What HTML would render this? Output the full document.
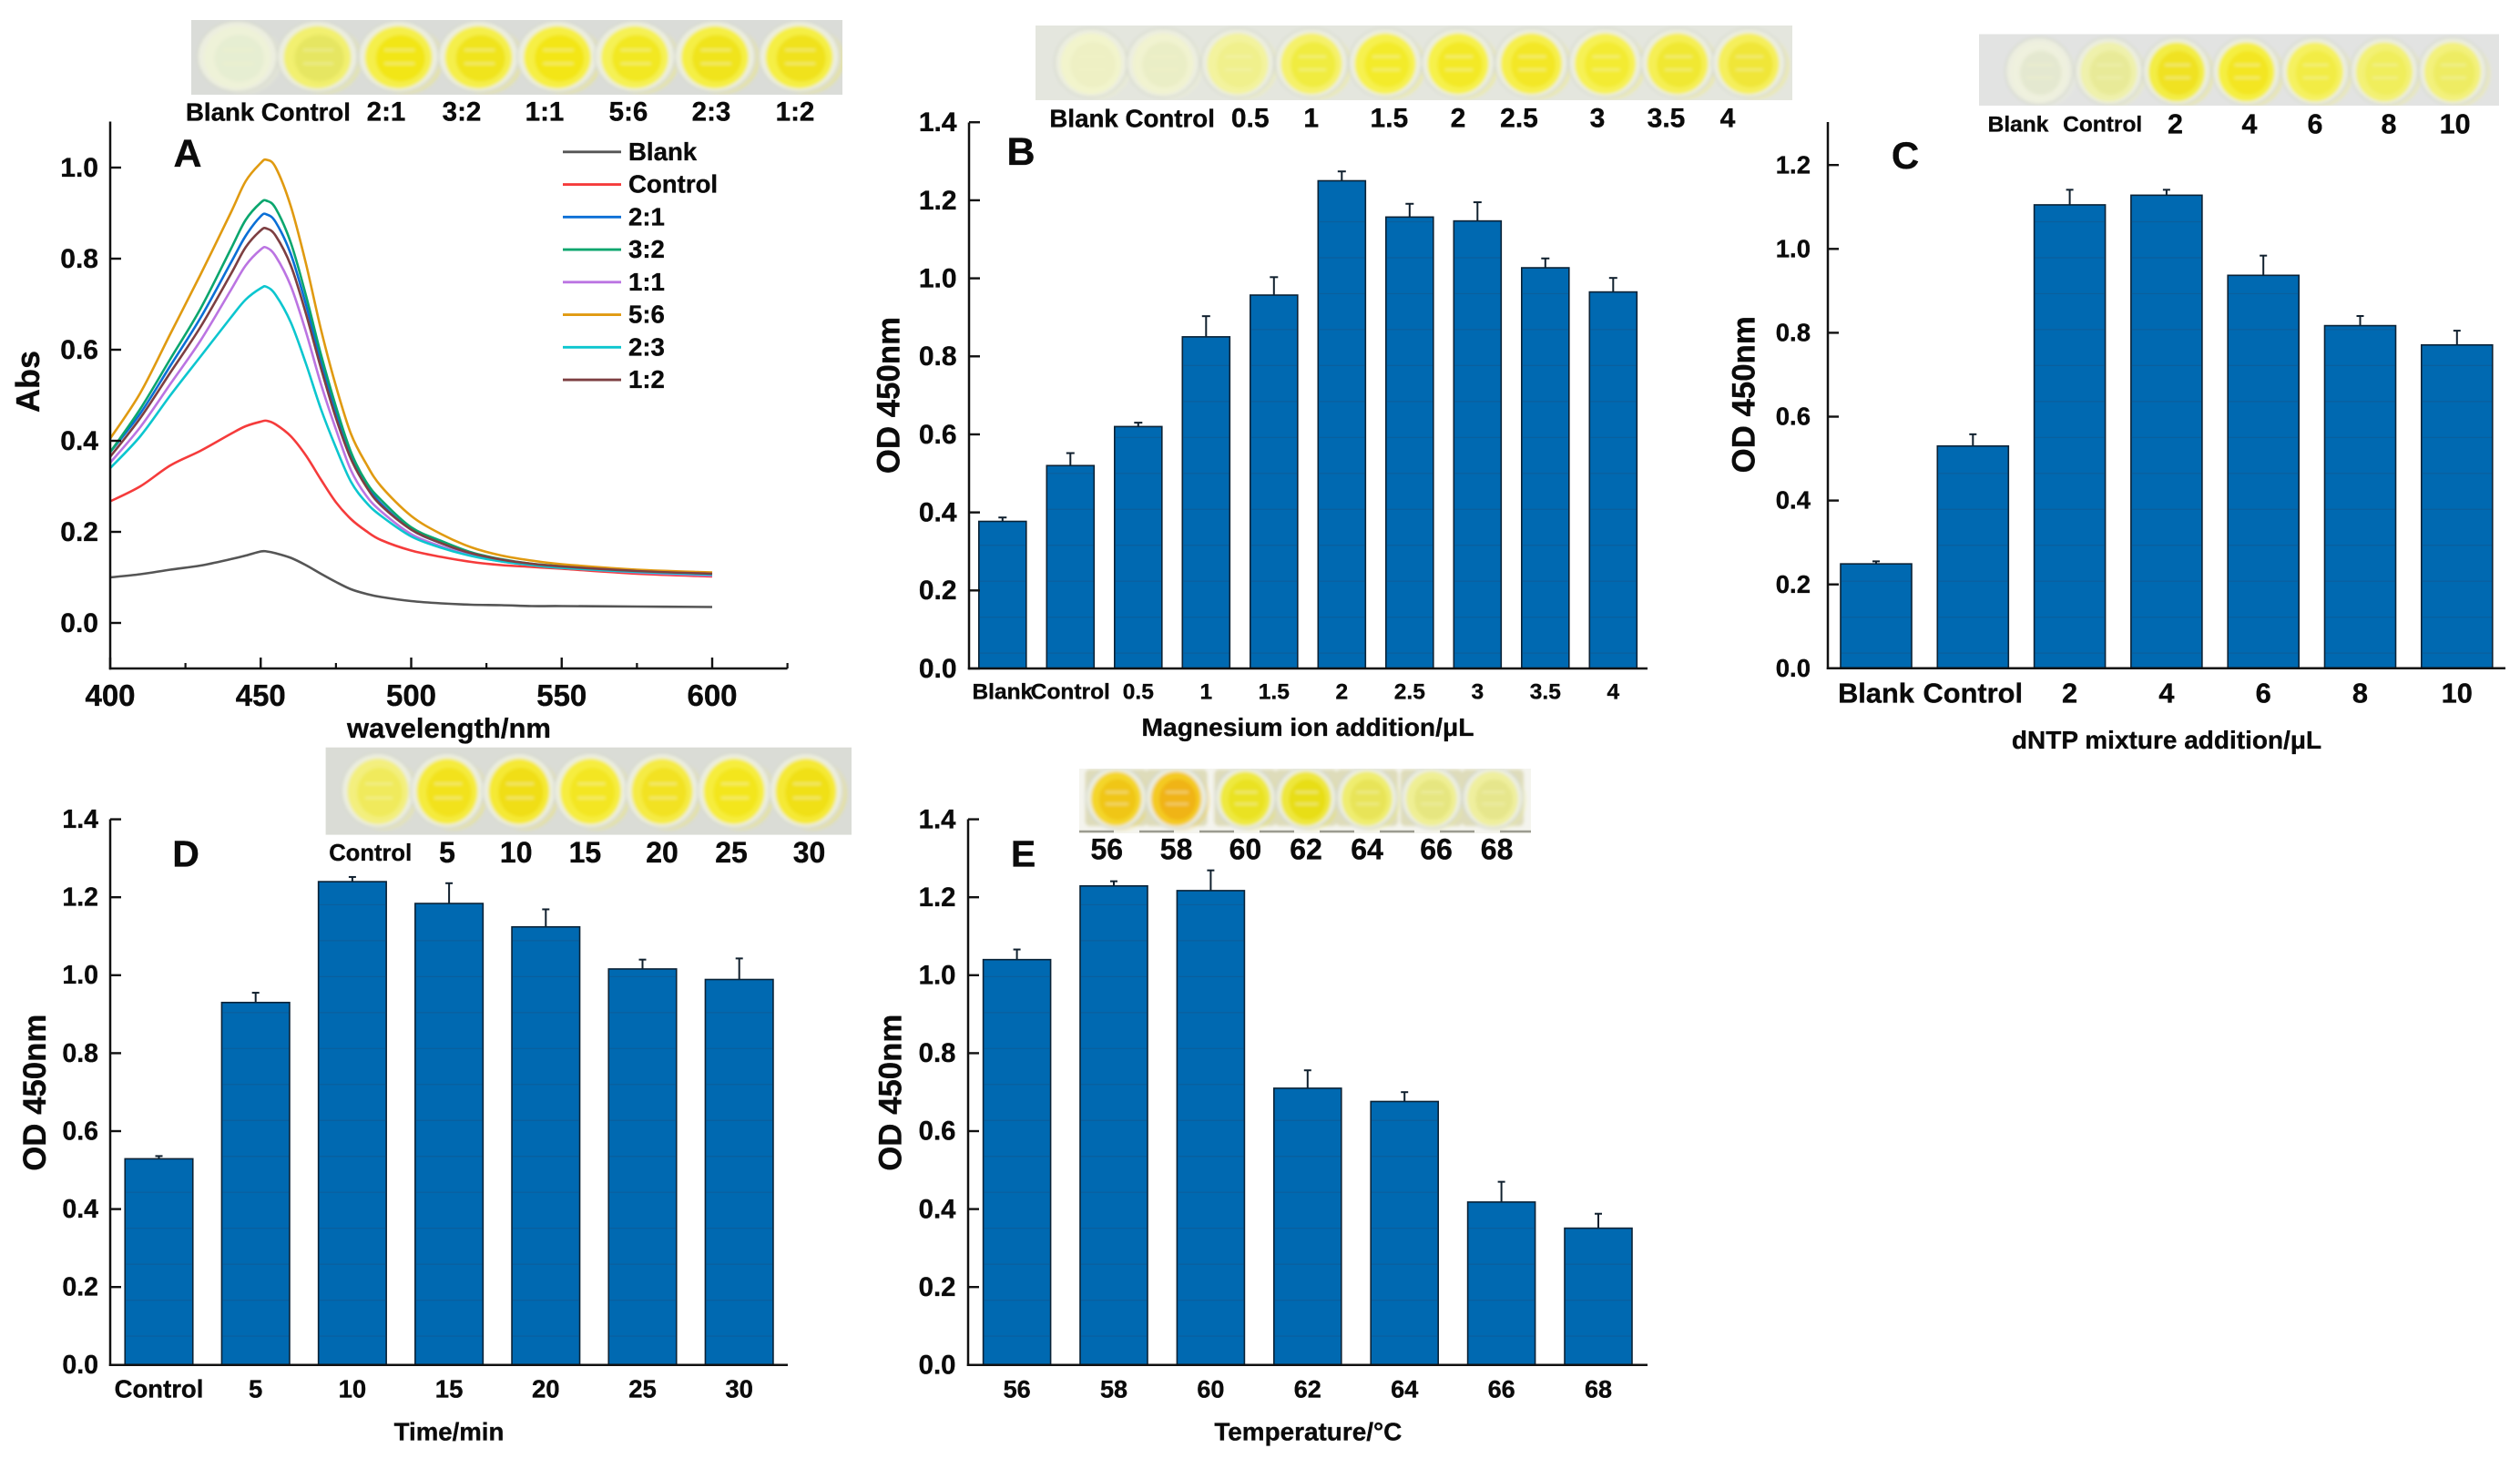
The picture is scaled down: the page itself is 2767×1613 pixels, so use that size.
<!DOCTYPE html>
<html lang="en">
<head>
<meta charset="utf-8">
<title>Assay optimisation panels</title>
<style>
html,body{margin:0;padding:0;background:#fff;}
svg{display:block;}
text{font-family:"Liberation Sans",Arial,sans-serif;font-weight:bold;fill:#0b0b0b;stroke:#0b0b0b;stroke-width:.35px;}
</style>
</head>
<body>
<svg id="figure" xmlns="http://www.w3.org/2000/svg" width="2767" height="1613" viewBox="0 0 2767 1613">
  <defs>
    <filter id="photoBlur" x="-5%" y="-5%" width="110%" height="110%"><feGaussianBlur stdDeviation="1.8"/></filter>
  </defs>
  <rect width="2767" height="1613" fill="#ffffff"/>

  <g id="strips"></g>

  <g>
    <text x="204" y="132.5" font-size="27.6">Blank Control</text>
    <g font-size="29.5" text-anchor="middle">
      <text x="424" y="132.5">2:1</text>
      <text x="507" y="132.5">3:2</text>
      <text x="598" y="132.5">1:1</text>
      <text x="690" y="132.5">5:6</text>
      <text x="781" y="132.5">2:3</text>
      <text x="873" y="132.5">1:2</text>
    </g>
  </g>
  <g>
    <text x="1152.4" y="139.5" font-size="27.7">Blank Control</text>
    <g font-size="30" text-anchor="middle">
      <text x="1372.7" y="139.5">0.5</text>
      <text x="1439.7" y="139.5">1</text>
      <text x="1525.4" y="139.5">1.5</text>
      <text x="1601" y="139.5">2</text>
      <text x="1668" y="139.5">2.5</text>
      <text x="1754" y="139.5">3</text>
      <text x="1829.5" y="139.5">3.5</text>
      <text x="1897" y="139.5">4</text>
    </g>
  </g>
  <g text-anchor="middle">
    <text x="2216" y="144.5" font-size="24.5">Blank</text>
    <text x="2308.7" y="144.5" font-size="24.5">Control</text>
    <g font-size="30.5">
      <text x="2388.5" y="146.5">2</text>
      <text x="2470" y="146.5">4</text>
      <text x="2542" y="146.5">6</text>
      <text x="2623" y="146.5">8</text>
      <text x="2695.6" y="146.5">10</text>
    </g>
  </g>
  <g text-anchor="middle">
    <text x="406.7" y="945" font-size="25.6">Control</text>
    <g font-size="32">
      <text x="491" y="947">5</text>
      <text x="566.7" y="947">10</text>
      <text x="642.4" y="947">15</text>
      <text x="727" y="947">20</text>
      <text x="803" y="947">25</text>
      <text x="888.5" y="947">30</text>
    </g>
  </g>
  <g text-anchor="middle" font-size="32">
    <text x="1215.3" y="943.5">56</text>
    <text x="1291.6" y="943.5">58</text>
    <text x="1367.4" y="943.5">60</text>
    <text x="1434" y="943.5">62</text>
    <text x="1501" y="943.5">64</text>
    <text x="1577" y="943.5">66</text>
    <text x="1643.6" y="943.5">68</text>
  </g>

  <g id="plots"></g>

  <g text-anchor="middle">
    <text x="206" y="183" font-size="43">A</text>
    <text x="1121" y="181" font-size="43">B</text>
    <text x="2092" y="185" font-size="42">C</text>
    <text x="204" y="951.5" font-size="41">D</text>
    <text x="1123.5" y="951.5" font-size="41">E</text>
  </g>

  <g text-anchor="middle">
    <text x="493" y="810" font-size="31">wavelength/nm</text>
    <text x="43" y="419" font-size="36" transform="rotate(-90 43 419)">Abs</text>
    <text x="1436" y="808" font-size="28.2">Magnesium ion addition/μL</text>
    <text x="987.5" y="434" font-size="34.8" transform="rotate(-90 987.5 434)">OD 450nm</text>
    <text x="2379" y="822" font-size="28">dNTP mixture addition/μL</text>
    <text x="1926.5" y="433.3" font-size="34.8" transform="rotate(-90 1926.5 433.3)">OD 450nm</text>
    <text x="493" y="1581.7" font-size="27.6">Time/min</text>
    <text x="50" y="1199.7" font-size="34.8" transform="rotate(-90 50 1199.7)">OD 450nm</text>
    <text x="1436.3" y="1581.7" font-size="27.9">Temperature/°C</text>
    <text x="989.5" y="1199.7" font-size="34.8" transform="rotate(-90 989.5 1199.7)">OD 450nm</text>
  </g>
</svg>

<script>
/* ---------- Panel A data ---------- */
const wavelengths = [400,410,420,430,440,445,450,452,455,460,465,470,475,480,485,490,500,510,520,530,540,550,575,600];
const absBlank   = [.100,.107,.117,.126,.140,.148,.157,.157,.153,.143,.127,.108,.090,.074,.064,.057,.048,.043,.040,.039,.037,.037,.036,.035];
const absControl = [.267,.300,.346,.378,.415,.432,.442,.444,.436,.410,.368,.315,.265,.228,.202,.182,.159,.145,.134,.127,.123,.119,.108,.102];
const abs2to1    = [.375,.460,.565,.670,.790,.850,.893,.897,.880,.810,.700,.575,.460,.365,.305,.262,.205,.175,.152,.138,.129,.123,.113,.106];
const abs3to2    = [.375,.470,.580,.690,.820,.885,.923,.927,.910,.835,.720,.590,.475,.375,.310,.270,.210,.180,.155,.140,.130,.125,.115,.108];
const abs1to1    = [.352,.430,.525,.620,.730,.785,.820,.824,.805,.740,.640,.525,.425,.335,.280,.245,.195,.168,.148,.135,.127,.121,.111,.104];
const abs5to6    = [.405,.505,.635,.765,.900,.970,1.010,1.017,1.000,.915,.790,.645,.520,.415,.350,.300,.235,.195,.166,.148,.137,.129,.117,.111];
const abs2to3    = [.340,.410,.500,.585,.670,.710,.735,.738,.720,.660,.570,.470,.385,.310,.265,.235,.190,.165,.147,.135,.127,.121,.112,.106];
const abs1to2    = [.365,.450,.550,.650,.765,.825,.862,.866,.850,.785,.680,.560,.450,.360,.300,.258,.205,.175,.153,.139,.130,.124,.114,.108];
const spectraNames = ['Blank','Control','2:1','3:2','1:1','5:6','2:3','1:2'];
const spectraColors = ['#555555','#f53b3b','#0a6fd6','#0aa66e','#bb74e2','#e09a10','#0cc6cf','#7d3f42'];
const panelAXTicks = [400,450,500,550,600];
const panelAXMinorTicks = [425,475,525,575,625];
const panelAYTicks = ['0.0','0.2','0.4','0.6','0.8','1.0'];

/* ---------- Panel B data ---------- */
const panelBCategories = ['Blank','Control','0.5','1','1.5','2','2.5','3','3.5','4'];
const panelBValues = [.377,.520,.620,.850,.957,1.250,1.157,1.147,1.027,.965];
const panelBErrors = [.010,.032,.010,.053,.046,.024,.034,.048,.024,.036];
const panelBYTicks = ['0.0','0.2','0.4','0.6','0.8','1.0','1.2','1.4'];

/* ---------- Panel C data ---------- */
const panelCCategories = ['Blank','Control','2','4','6','8','10'];
const panelCValues = [.249,.530,1.105,1.128,.937,.817,.771];
const panelCErrors = [.006,.028,.036,.013,.047,.023,.034];
const panelCYTicks = ['0.0','0.2','0.4','0.6','0.8','1.0','1.2'];

/* ---------- Panel D data ---------- */
const panelDCategories = ['Control','5','10','15','20','25','30'];
const panelDValues = [.529,.930,1.240,1.184,1.124,1.016,.989];
const panelDErrors = [.007,.025,.012,.052,.045,.024,.054];
const panelDYTicks = ['0.0','0.2','0.4','0.6','0.8','1.0','1.2','1.4'];

/* ---------- Panel E data ---------- */
const panelECategories = ['56','58','60','62','64','66','68'];
const panelEValues = [1.040,1.229,1.217,.710,.676,.418,.351];
const panelEErrors = [.026,.012,.052,.046,.024,.052,.037];
const panelEYTicks = ['0.0','0.2','0.4','0.6','0.8','1.0','1.2','1.4'];

/* ---------- Well photo colours ---------- */
const wellsA = [['#eef2d8','#e6eed2'],['#f2f070','#e6e662'],['#f5ef4c','#f2e614'],['#f5ef4c','#f0e41e'],['#f6ef44','#f3e612'],['#f5f154','#f2e824'],['#f5ef44','#f0e41e'],['#f5ef44','#f0e21a']];
const wellsB = [['#f2f4cc','#eef0c4'],['#f1f3d0','#eaeec6'],['#f3f39e','#f0f08c'],['#f5f16a','#f0ec40'],['#f6f150','#f3eb2c'],['#f6f14c','#f3e928'],['#f6ef4c','#f3e728'],['#f6f154','#f3eb30'],['#f5ef54','#f0e830'],['#f5ef5c','#f0e638']];
const wellsC = [['#eff1de','#e4e8d0'],['#eff1ac','#e8ea98'],['#f3ed44','#f0e224'],['#f5ef42','#f3e622'],['#f5f160','#f2ec44'],['#f3f174','#f0ee5c'],['#f3f17c','#eeec64']];
const wellsD = [['#f3ef7e','#f0ea5c'],['#f5eb3c','#f2e21c'],['#f5e934','#f0de14'],['#f6ed40','#f3e620'],['#f5eb44','#f2e224'],['#f6ed3c','#f3e61c'],['#f5e934','#f0e014']];
const wellsE = [['#f4d62c','#f0c614'],['#f4ca24','#f0b414'],['#eee940','#eae224'],['#eee73e','#e8de18'],['#efed70','#e8e458'],['#efef94','#e6e680'],['#efef9e','#e6e68c']];

const NS = 'http://www.w3.org/2000/svg';
const plots = document.getElementById('plots');
const stripsLayer = document.getElementById('strips');
const FONT_BASE = 0.33;

function mk(tag, attrs, parent) {
  const n = document.createElementNS(NS, tag);
  for (const k in attrs) n.setAttribute(k, attrs[k]);
  parent.appendChild(n);
  return n;
}

/* ---------- Panel A ---------- */
(function drawPanelA() {
  const left = 121, pxPerNm = 3.305, zeroY = 684, pxPerAbs = 500, bottom = 734, top = 133.5;
  const xOf = w => left + (w - 400) * pxPerNm;
  const yOf = a => zeroY - a * pxPerAbs;
  const g = mk('g', {}, plots);
  
  

  const series = [absBlank, absControl, abs2to1, abs3to2, abs1to1, abs5to6, abs2to3, abs1to2];
  series.forEach((vals, s) => {
    const pts = vals.map((v, i) => [xOf(wavelengths[i]), yOf(v)]);
    let d = 'M' + pts[0][0] + ' ' + pts[0][1];
    for (let i = 0; i < pts.length - 1; i++) {
      const p0 = pts[Math.max(i - 1, 0)], p1 = pts[i], p2 = pts[i + 1], p3 = pts[Math.min(i + 2, pts.length - 1)];
      const t = 6;
      d += ' C' + (p1[0] + (p2[0] - p0[0]) / t) + ' ' + (p1[1] + (p2[1] - p0[1]) / t) + ' ' +
           (p2[0] - (p3[0] - p1[0]) / t) + ' ' + (p2[1] - (p3[1] - p1[1]) / t) + ' ' + p2[0] + ' ' + p2[1];
    }
    const line = mk('path', {d: d, fill: 'none', stroke: spectraColors[s], 'stroke-width': 2.6, 'stroke-linejoin': 'round'}, g);
    
    
  });

  const yAxis = mk('line', {x1: left, x2: left, y1: top, y2: bottom + 1.2, stroke: '#111', 'stroke-width': 2.5}, g);
  
  
  const xAxis = mk('line', {x1: left - 1.2, x2: xOf(625), y1: bottom, y2: bottom, stroke: '#111', 'stroke-width': 2.5}, g);
  
  

  panelAYTicks.forEach(lbl => {
    const y = yOf(parseFloat(lbl));
    const tick = mk('line', {x1: left, x2: left + 12, y1: y, y2: y, stroke: '#111', 'stroke-width': 2.4}, g);
    
    
    const t = mk('text', {x: 108, y: y + 30 * FONT_BASE, 'font-size': 30, 'text-anchor': 'end'}, g);
    t.textContent = lbl;
    
    
  });
  panelAXTicks.forEach(w => {
    const x = xOf(w);
    const tick = mk('line', {x1: x, x2: x, y1: bottom, y2: bottom - 12, stroke: '#111', 'stroke-width': 2.4}, g);
    
    
    const t = mk('text', {x: x, y: 763 + 33 * 0.36, 'font-size': 33, 'text-anchor': 'middle'}, g);
    t.textContent = w;
    
    
  });
  panelAXMinorTicks.forEach(w => {
    const x = xOf(w);
    const tick = mk('line', {x1: x, x2: x, y1: bottom, y2: bottom - 6, stroke: '#111', 'stroke-width': 2.2}, g);
    
    
  });

  const legend = mk('g', {}, g);
  
  
  spectraNames.forEach((name, i) => {
    const y = 166.8 + i * 35.75;
    const swatch = mk('line', {x1: 618, x2: 682, y1: y, y2: y, stroke: spectraColors[i], 'stroke-width': 2.8}, legend);
    
    
    const t = mk('text', {x: 690, y: y + 9, 'font-size': 27.6}, legend);
    t.textContent = name;
    
    
  });
})();

/* ---------- Bar panels ---------- */
function drawBarPanel(id, cats, vals, errs, yTicks, L) {
  const yOf = v => L.y0 - v * L.pxPerUnit;
  const xOf = i => L.first + i * L.step;
  const g = mk('g', {}, plots);
  
  

  vals.forEach((v, i) => {
    const x = xOf(i), top = yOf(v);
    const errTop = yOf(v + errs[i]);
    const stem = mk('line', {x1: x, x2: x, y1: top, y2: errTop, stroke: '#10202e', 'stroke-width': 2}, g);
    
    
    const cap = mk('line', {x1: x - L.cap, x2: x + L.cap, y1: errTop, y2: errTop, stroke: '#10202e', 'stroke-width': 2}, g);
    
    
    const bar = mk('rect', {x: x - L.width / 2, y: top, width: L.width, height: L.y0 - top, fill: '#0069b1', stroke: '#0a2236', 'stroke-width': 1.6}, g);
    
    
    for (let k = 0; k < 40; k++) {
      const sy = 243.5 + k * 39.47;
      if (sy > top + 2 && sy < L.y0 - 2) {
        const seam = mk('line', {x1: x - L.width / 2 + 1, x2: x + L.width / 2 - 1, y1: sy, y2: sy, stroke: '#0a5f9d', 'stroke-width': 1.2}, g);
        
        
      }
    }
    const label = mk('text', {x: x, y: L.xLabelY + L.xFont * 0.36, 'font-size': L.xFont, 'text-anchor': 'middle'}, g);
    label.textContent = cats[i];
    
    
  });

  const yAxis = mk('line', {x1: L.left, x2: L.left, y1: L.top, y2: L.y0 + 1.2, stroke: '#111', 'stroke-width': 2.5}, g);
  
  
  const xAxis = mk('line', {x1: L.left - 1.2, x2: L.right, y1: L.y0, y2: L.y0, stroke: '#111', 'stroke-width': 2.5}, g);
  
  

  yTicks.forEach(lbl => {
    const y = yOf(parseFloat(lbl));
    const tick = mk('line', {x1: L.left, x2: L.left + 12, y1: y, y2: y, stroke: '#111', 'stroke-width': 2.4}, g);
    
    
    const t = mk('text', {x: L.yLabelRight, y: y + L.yFont * FONT_BASE, 'font-size': L.yFont, 'text-anchor': 'end'}, g);
    t.textContent = lbl;
    
    
  });
}

drawBarPanel('b', panelBCategories, panelBValues, panelBErrors, panelBYTicks,
  {left: 1064, right: 1809, top: 134.5, y0: 734, pxPerUnit: 428.4, first: 1100.8, step: 74.5, width: 52, cap: 4.5, xFont: 24.5, xLabelY: 758.6, yFont: 30, yLabelRight: 1050.6});
drawBarPanel('c', panelCCategories, panelCValues, panelCErrors, panelCYTicks,
  {left: 2007, right: 2751, top: 134, y0: 733.8, pxPerUnit: 460.5, first: 2060, step: 106.3, width: 78, cap: 4, xFont: 30.8, xLabelY: 760.6, yFont: 27.5, yLabelRight: 1988});
drawBarPanel('d', panelDCategories, panelDValues, panelDErrors, panelDYTicks,
  {left: 121, right: 865, top: 899.5, y0: 1498.8, pxPerUnit: 428, first: 174.5, step: 106.2, width: 74.5, cap: 4, xFont: 27.5, xLabelY: 1524.7, yFont: 28.5, yLabelRight: 108});
drawBarPanel('e', panelECategories, panelEValues, panelEErrors, panelEYTicks,
  {left: 1063, right: 1809, top: 899.5, y0: 1498.8, pxPerUnit: 428, first: 1116.6, step: 106.4, width: 74, cap: 4, xFont: 27, xLabelY: 1524.7, yFont: 29.3, yLabelRight: 1049.4});

/* ---------- Photo strips ---------- */
function drawStrip(id, box, centers, cy, rx, ry, colors, bg, squares) {
  const g = mk('g', {}, stripsLayer);
  
  
  const clip = mk('clipPath', {id: 'clip-' + id}, g);
  mk('rect', {x: box[0], y: box[1], width: box[2], height: box[3]}, clip);
  const plate = mk('rect', {x: box[0], y: box[1], width: box[2], height: box[3], fill: bg}, g);
  
  
  const wells = mk('g', {'clip-path': 'url(#clip-' + id + ')'}, g);
  
  
  const soft = mk('g', {filter: 'url(#photoBlur)'}, wells);
  
  
  centers.forEach((cx, i) => {
    const c = colors[i];
    if (squares) {
      const sq = mk('rect', {x: cx - rx - 1, y: box[1] + 1, width: 2 * rx + 2, height: box[3] - 9, rx: 5, fill: '#dedcba'}, soft);
      
      
    }
    const shadow = mk('ellipse', {cx: cx + rx * 0.14, cy: cy + ry * 0.08, rx: rx * 0.98, ry: ry * 0.98, fill: c[0], opacity: 0.35}, soft);
    
    
    const ring = mk('ellipse', {cx: cx, cy: cy, rx: rx, ry: ry, fill: '#eceee0', stroke: '#d2d5ca', 'stroke-width': 1.5}, soft);
    
    
    const liquid = mk('ellipse', {cx: cx, cy: cy + 1, rx: rx * 0.84, ry: ry * 0.88, fill: c[0]}, soft);
    
    
    const core = mk('ellipse', {cx: cx + rx * 0.05, cy: cy + 2, rx: rx * 0.62, ry: ry * 0.66, fill: c[1]}, soft);
    
    
    [-0.18, 0.2].forEach(off => {
      const glint = mk('line', {x1: cx - rx * 0.35, x2: cx + rx * 0.4, y1: cy + ry * off, y2: cy + ry * off, stroke: '#f6f6c8', 'stroke-width': 1.4, opacity: 0.7}, soft);
      
      
    });
  });
  if (squares) {
    const band = mk('line', {x1: box[0], x2: box[0] + box[2], y1: box[1] + box[3] - 2, y2: box[1] + box[3] - 2, stroke: '#9b9b90', 'stroke-width': 2.5, 'stroke-dasharray': '38 28'}, g);
    
    
  }
}
drawStrip('a', [210, 22, 715, 82], [260.6,348.5,437.6,525.5,612,697,785,877.6], 62, 44, 39, wellsA, '#dadcd8');
drawStrip('b', [1137, 28, 831, 82], [1198,1277,1359,1440,1521,1601,1681.5,1762.6,1842,1920], 69, 40, 38, wellsB, '#e4e6de');
drawStrip('c', [2173, 37.5, 571, 78.5], [2239,2315.5,2390,2466.5,2541.8,2618,2693], 78, 37, 37, wellsC, '#e2e3e2');
drawStrip('d', [357.6, 820.7, 577.4, 95.9], [415,491,570,648.5,727,806,885], 868, 40, 41, wellsD, '#dadcd6');
drawStrip('e', [1185, 844, 496, 71], [1225.6,1291.6,1367.4,1434,1501,1571.8,1639], 876, 33, 34, wellsE, '#f4f4ee', true);
</script>
</body>
</html>
